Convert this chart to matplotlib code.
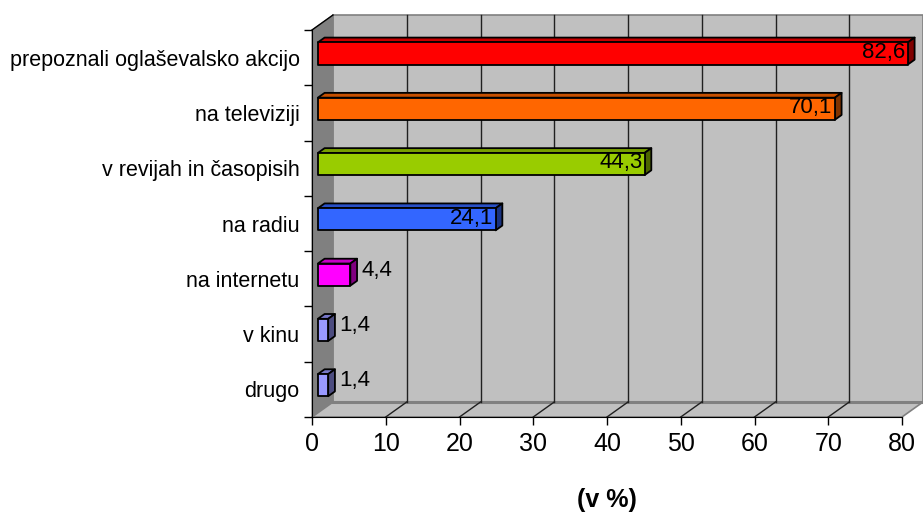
import matplotlib
matplotlib.use('Agg')
import matplotlib.pyplot as plt
from matplotlib.patches import Polygon, Rectangle
import numpy as np

# ── Data ──────────────────────────────────────────────────────────────────────
categories = ['prepoznali oglaševalsko akcijo', 'na televiziji', 'v revijah in časopisih',
              'na radiu', 'na internetu', 'v kinu', 'drugo']
values     = [82.6, 70.1, 44.3, 24.1, 4.4, 1.4, 1.4]
labels     = ['82,6', '70,1', '44,3', '24,1', '4,4', '1,4', '1,4']
colors     = ['#FF0000', '#FF6600', '#99CC00', '#3366FF', '#FF00FF', '#9999FF', '#9999FF']
x_ticks    = [0, 10, 20, 30, 40, 50, 60, 70, 80]
XMAX = 80

plt.rcParams['font.family'] = ['Liberation Sans', 'DejaVu Sans']

W, H = 923, 513
fig = plt.figure(figsize=(W / 100, H / 100), dpi=100)
left_px, right_px, top_px, bottom_px = 312, 902, 30, 417
ax = fig.add_axes([left_px / W, (H - bottom_px) / H,
                   (right_px - left_px) / W, (bottom_px - top_px) / H])
n = len(categories)
ax.set_xlim(0, XMAX)
ax.set_ylim(n - 0.5, -0.5)

# depth offset of the 3D box in data units
px_per_x = (right_px - left_px) / XMAX
px_per_y = (bottom_px - top_px) / n
DX = 21 / px_per_x
DY = 15 / px_per_y
y_top, y_bot = -0.5, n - 0.5

def darker(c, f):
    r, g, b = matplotlib.colors.to_rgb(c)
    return (r * f, g * f, b * f)

# walls
back = Polygon([(DX, y_top - DY), (XMAX + DX, y_top - DY),
                (XMAX + DX, y_bot - DY), (DX, y_bot - DY)],
               closed=True, facecolor='#C0C0C0', edgecolor='#808080', lw=1.2,
               clip_on=False, zorder=0)
side = Polygon([(0, y_top), (DX, y_top - DY), (DX, y_bot - DY), (0, y_bot)],
               closed=True, facecolor='#808080', edgecolor='#808080', lw=0.8,
               clip_on=False, zorder=0)
floor = Polygon([(0, y_bot), (XMAX, y_bot), (XMAX + DX, y_bot - DY), (DX, y_bot - DY)],
                closed=True, facecolor='#C0C0C0', edgecolor='#808080', lw=1.2,
                clip_on=False, zorder=0)
for p in (back, side, floor):
    ax.add_patch(p)
ax.plot([0, DX], [y_top, y_top - DY], color='black', lw=1, clip_on=False, zorder=1)
ax.plot([DX, XMAX + DX], [y_bot - DY, y_bot - DY], color='#808080', lw=2.2,
        clip_on=False, zorder=1)

# gridlines on back wall and floor
for t in x_ticks[1:-1]:
    ax.plot([t + DX, t + DX], [y_top - DY, y_bot - DY], color='#202020', lw=1,
            clip_on=False, zorder=1)
    ax.plot([t, t + DX], [y_bot, y_bot - DY], color='#202020', lw=1,
            clip_on=False, zorder=1)

# 3D bars
f0, f1 = 0.28, 0.60
bh = 0.4
ddx, ddy = (f1 - f0) * DX, (f1 - f0) * DY
for i, (v, c) in enumerate(zip(values, colors)):
    v = min(v, XMAX)
    x0 = f0 * DX
    x1 = x0 + v
    yc = i - f0 * DY
    yt, yb = yc - bh / 2, yc + bh / 2
    top = Polygon([(x0, yt), (x1, yt), (x1 + ddx, yt - ddy), (x0 + ddx, yt - ddy)],
                  closed=True, facecolor=darker(c, 0.78), edgecolor='black', lw=1.3,
                  joinstyle='round', zorder=3, clip_on=False)
    end = Polygon([(x1, yt), (x1 + ddx, yt - ddy), (x1 + ddx, yb - ddy), (x1, yb)],
                  closed=True, facecolor=darker(c, 0.5), edgecolor='black', lw=1.3,
                  joinstyle='round', zorder=3, clip_on=False)
    front = Rectangle((x0, yt), v, bh, facecolor=c, edgecolor='black', lw=1.3,
                      joinstyle='round', zorder=4, clip_on=False)
    for p in (top, end, front):
        ax.add_patch(p)

    if v > 10:
        ax.text(x1 - 0.3, yc - 0.02, labels[i], ha='right', va='center',
                fontsize=16, color='black', zorder=5)
    else:
        ax.text(x1 + 1.5, yc - 0.08, labels[i], ha='left', va='center',
                fontsize=16, color='black', zorder=5)

# axes, ticks, labels
for s in ('top', 'right'):
    ax.spines[s].set_visible(False)
ax.spines['left'].set_color('black')
ax.spines['bottom'].set_color('black')
ax.spines['left'].set_zorder(2)
ax.spines['bottom'].set_zorder(2)
ax.patch.set_visible(False)

ax.set_xticks(x_ticks)
ax.set_xticklabels([str(t) for t in x_ticks], fontsize=18)
ax.tick_params(axis='x', direction='out', length=6, width=1, pad=5)

ax.set_yticks(np.arange(n + 1) - 0.5)
ax.set_yticklabels([])
ax.set_yticks(np.arange(n), minor=True)
ax.set_yticklabels(categories, minor=True, fontsize=15.5)
ax.tick_params(axis='y', which='major', direction='out', length=6, width=1)
ax.tick_params(axis='y', which='minor', length=0, pad=9)

fig.text(607 / W, 1 - 500 / H, '(v %)', ha='center', va='center',
         fontsize=18, fontweight='bold')

fig.savefig('out.png', dpi=100)
